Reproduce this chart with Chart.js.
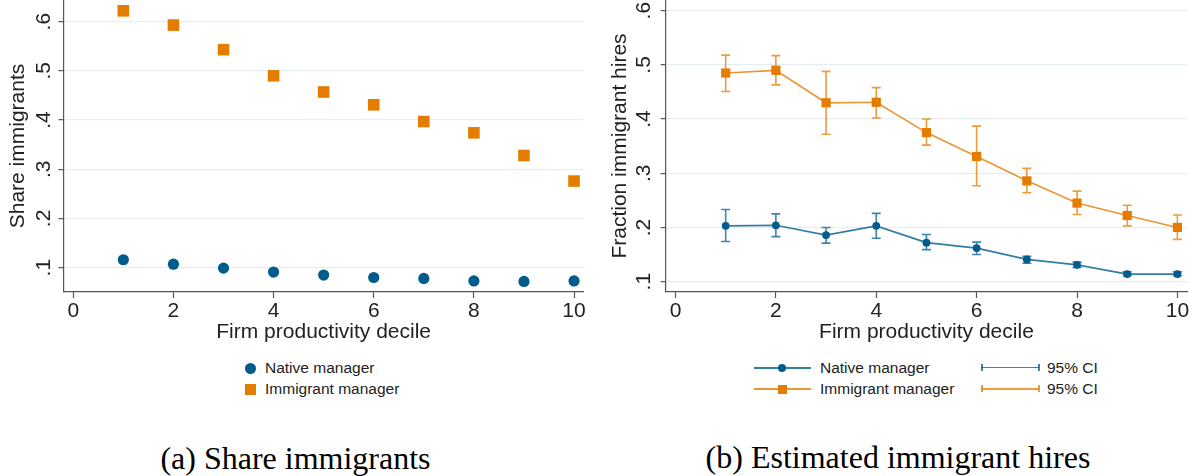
<!DOCTYPE html>
<html><head><meta charset="utf-8">
<script src="https://cdn.jsdelivr.net/npm/chart.js@4.4.1/dist/chart.umd.min.js"></script>
<style>
html,body{margin:0;padding:0;background:#fff;}
body{width:1191px;height:476px;overflow:hidden;position:relative;font-family:"Liberation Sans",Arial,sans-serif;}
canvas{position:absolute;top:0;}
#c1{left:0;}
#c2{left:600px;}
.leg{position:absolute;font-size:15.5px;color:#222;line-height:18px;white-space:nowrap;transform:translateY(-50%);}
.sym{position:absolute;}
.caption{position:absolute;font-family:"Liberation Serif","Times New Roman",serif;font-size:32px;color:#000;transform:translate(-50%,-50%);white-space:nowrap;line-height:1;}
</style>
</head><body>
<canvas id="c1" width="600" height="350"></canvas>
<canvas id="c2" width="591" height="350"></canvas>

<!-- legend (a) -->
<div class="sym" style="left:245px;top:362.5px;width:11px;height:11px;border-radius:50%;background:#005c8c;"></div>
<div class="leg" style="left:265px;top:368px;">Native manager</div>
<div class="sym" style="left:245px;top:383.5px;width:11px;height:11px;background:#e47c00;"></div>
<div class="leg" style="left:265px;top:389px;">Immigrant manager</div>

<!-- legend (b) -->
<div class="sym" style="left:754px;top:366.7px;width:57px;height:2px;background:rgba(0,92,140,0.8);"></div>
<div class="sym" style="left:778.3px;top:363.8px;width:8px;height:8px;border-radius:50%;background:#005c8c;"></div>
<div class="leg" style="left:820px;top:368px;">Native manager</div>
<div class="sym" style="left:754px;top:388px;width:57px;height:2px;background:rgba(228,124,0,0.8);"></div>
<div class="sym" style="left:777.8px;top:384.5px;width:9px;height:9px;background:#e47c00;"></div>
<div class="leg" style="left:820px;top:389px;">Immigrant manager</div>

<div class="sym" style="left:981px;top:366.7px;width:58px;height:1.6px;background:rgba(0,92,140,0.75);"></div>
<div class="sym" style="left:981px;top:364px;width:1.6px;height:7px;background:rgba(0,92,140,0.75);"></div>
<div class="sym" style="left:1038px;top:364px;width:1.6px;height:7px;background:rgba(0,92,140,0.75);"></div>
<div class="leg" style="left:1047px;top:368px;">95% CI</div>
<div class="sym" style="left:981px;top:388px;width:58px;height:1.6px;background:rgba(228,124,0,0.75);"></div>
<div class="sym" style="left:981px;top:385.3px;width:1.6px;height:7px;background:rgba(228,124,0,0.75);"></div>
<div class="sym" style="left:1038px;top:385.3px;width:1.6px;height:7px;background:rgba(228,124,0,0.75);"></div>
<div class="leg" style="left:1047px;top:389px;">95% CI</div>

<div class="caption" style="left:295.5px;top:458px;">(a) Share immigrants</div>
<div class="caption" style="left:898px;top:457px;">(b) Estimated immigrant hires</div>

<script>
// ---- data ----
const deciles = [1,2,3,4,5,6,7,8,9,10];
const shareNative    = [0.116,0.107,0.099,0.091,0.085,0.080,0.078,0.073,0.072,0.073];
const shareImmigrant = [0.622,0.593,0.543,0.490,0.457,0.431,0.397,0.374,0.328,0.276];
const hiresNative      = [0.203,0.204,0.186,0.203,0.172,0.162,0.141,0.131,0.114,0.114];
const hiresNativeLo    = [0.174,0.183,0.171,0.180,0.159,0.150,0.134,0.126,0.111,0.111];
const hiresNativeHi    = [0.233,0.225,0.200,0.226,0.187,0.173,0.147,0.136,0.118,0.118];
const hiresImmigrant   = [0.485,0.490,0.430,0.431,0.375,0.331,0.286,0.245,0.222,0.200];
const hiresImmigrantLo = [0.451,0.463,0.372,0.402,0.352,0.277,0.264,0.224,0.203,0.178];
const hiresImmigrantHi = [0.518,0.517,0.488,0.458,0.400,0.387,0.309,0.267,0.241,0.223];
const xTicks = [0,2,4,6,8,10];
const yTicks = [0.1,0.2,0.3,0.4,0.5,0.6];
const yTickLabels = ['.1','.2','.3','.4','.5','.6'];

const BLUE = '#005c8c', ORANGE = '#e47c00';
const BLUE_L = 'rgba(0,92,140,0.8)', ORANGE_L = 'rgba(228,124,0,0.8)';
const FONT = '"Liberation Sans", Arial, sans-serif';

const yLabelPlugin = {
  id: 'yLabels',
  afterDraw(chart, args, opts) {
    const ctx = chart.ctx, ys = chart.scales.y;
    ctx.save();
    ctx.fillStyle = '#222';
    ctx.font = '21px ' + FONT;
    ctx.textAlign = 'center';
    ctx.textBaseline = 'middle';
    yTicks.forEach((v, i) => {
      const py = ys.getPixelForValue(v);
      ctx.save();
      ctx.translate(opts.x, py);
      ctx.rotate(-Math.PI / 2);
      ctx.fillText(yTickLabels[i], 0, 0);
      ctx.restore();
    });
    ctx.restore();
  }
};

const errPlugin = {
  id: 'errBars',
  beforeDatasetsDraw(chart, args, opts) {
    const ctx = chart.ctx, xs = chart.scales.x, ys = chart.scales.y;
    ctx.save();
    ctx.lineWidth = 1.6;
    opts.sets.forEach(s => {
      ctx.strokeStyle = s.color;
      deciles.forEach((d, i) => {
        const px = xs.getPixelForValue(d);
        const lo = ys.getPixelForValue(s.lo[i]);
        const hi = ys.getPixelForValue(s.hi[i]);
        ctx.beginPath();
        ctx.moveTo(px, lo); ctx.lineTo(px, hi);
        ctx.moveTo(px - 4.5, lo); ctx.lineTo(px + 4.5, lo);
        ctx.moveTo(px - 4.5, hi); ctx.lineTo(px + 4.5, hi);
        ctx.stroke();
      });
    });
    ctx.restore();
  }
};

function scales(yMin, yMax, yWidth, yTitle, yTitlePad, canvasH) {
  return {
    x: {
      type: 'linear', min: -0.195, max: 10.195,
      afterBuildTicks: s => { s.ticks = xTicks.map(v => ({value: v})); },
      afterFit: s => { s.height = canvasH - 292; s.paddingLeft = 0; s.paddingRight = 0; },
      grid: { drawOnChartArea: false, drawTicks: true, tickLength: 6, tickColor: '#555', tickWidth: 1.2 },
      border: { display: true, color: '#555', width: 1.2 },
      ticks: { color: '#222', font: { family: FONT, size: 21 }, padding: 1, maxRotation: 0, autoSkip: false,
               callback: v => String(v) },
      title: { display: true, text: 'Firm productivity decile', color: '#222',
               font: { family: FONT, size: 21 }, padding: { top: 0, bottom: 4.7 } }
    },
    y: {
      type: 'linear', min: yMin, max: yMax,
      afterBuildTicks: s => { s.ticks = yTicks.map(v => ({value: v})); },
      afterFit: s => { s.width = yWidth; s.paddingTop = 0; s.paddingBottom = 0; },
      grid: { drawOnChartArea: true, color: '#e6eef1', lineWidth: 1.3, drawTicks: true, tickLength: 5,
              tickColor: '#555', tickWidth: 1.2 },
      border: { display: true, color: '#555', width: 1.2 },
      ticks: { display: false },
      title: { display: true, text: yTitle, color: '#222',
               font: { family: FONT, size: 21 }, padding: { top: yTitlePad, bottom: 0 } }
    }
  };
}

new Chart(document.getElementById('c1'), {
  type: 'scatter',
  data: {
    datasets: [
      { label: 'Native manager', data: deciles.map((d, i) => ({x: d, y: shareNative[i]})),
        pointStyle: 'circle', pointRadius: 5.6, pointBackgroundColor: BLUE, pointBorderWidth: 0, showLine: false, clip: false },
      { label: 'Immigrant manager', data: deciles.map((d, i) => ({x: d, y: shareImmigrant[i]})),
        pointStyle: 'rect', pointRadius: 8.2, pointBackgroundColor: ORANGE, pointBorderWidth: 0, showLine: false, clip: false }
    ]
  },
  options: {
    responsive: false, animation: false, devicePixelRatio: 1,
    layout: { autoPadding: false, padding: { left: 0, top: 0, right: 600 - 583.8, bottom: 0 } },
    plugins: { legend: { display: false }, tooltip: { enabled: false }, yLabels: { x: 44 } },
    scales: scales(0.0505, 0.644, 63.5, 'Share immigrants', 5.2, 350)
  },
  plugins: [yLabelPlugin]
});

new Chart(document.getElementById('c2'), {
  type: 'line',
  data: {
    datasets: [
      { label: 'Native manager', data: deciles.map((d, i) => ({x: d, y: hiresNative[i]})),
        borderColor: BLUE_L, borderWidth: 1.7, pointStyle: 'circle', pointRadius: 3.9,
        pointBackgroundColor: BLUE, pointBorderColor: BLUE, pointBorderWidth: 0, tension: 0, clip: false },
      { label: 'Immigrant manager', data: deciles.map((d, i) => ({x: d, y: hiresImmigrant[i]})),
        borderColor: ORANGE_L, borderWidth: 1.7, pointStyle: 'rect', pointRadius: 6.5,
        pointBackgroundColor: ORANGE, pointBorderColor: ORANGE, pointBorderWidth: 0, tension: 0, clip: false }
    ]
  },
  options: {
    responsive: false, animation: false, devicePixelRatio: 1,
    layout: { autoPadding: false, padding: { left: 0, top: 0, right: 591 - 587.2, bottom: 0 } },
    plugins: { legend: { display: false }, tooltip: { enabled: false }, yLabels: { x: 44 },
      errBars: { sets: [
        { lo: hiresNativeLo, hi: hiresNativeHi, color: 'rgba(0,92,140,0.75)' },
        { lo: hiresImmigrantLo, hi: hiresImmigrantHi, color: 'rgba(228,124,0,0.75)' }
      ] } },
    scales: scales(0.0809, 0.6197, 65.7, 'Fraction immigrant hires', 7.4, 350)
  },
  plugins: [yLabelPlugin, errPlugin]
});
</script>
</body></html>
